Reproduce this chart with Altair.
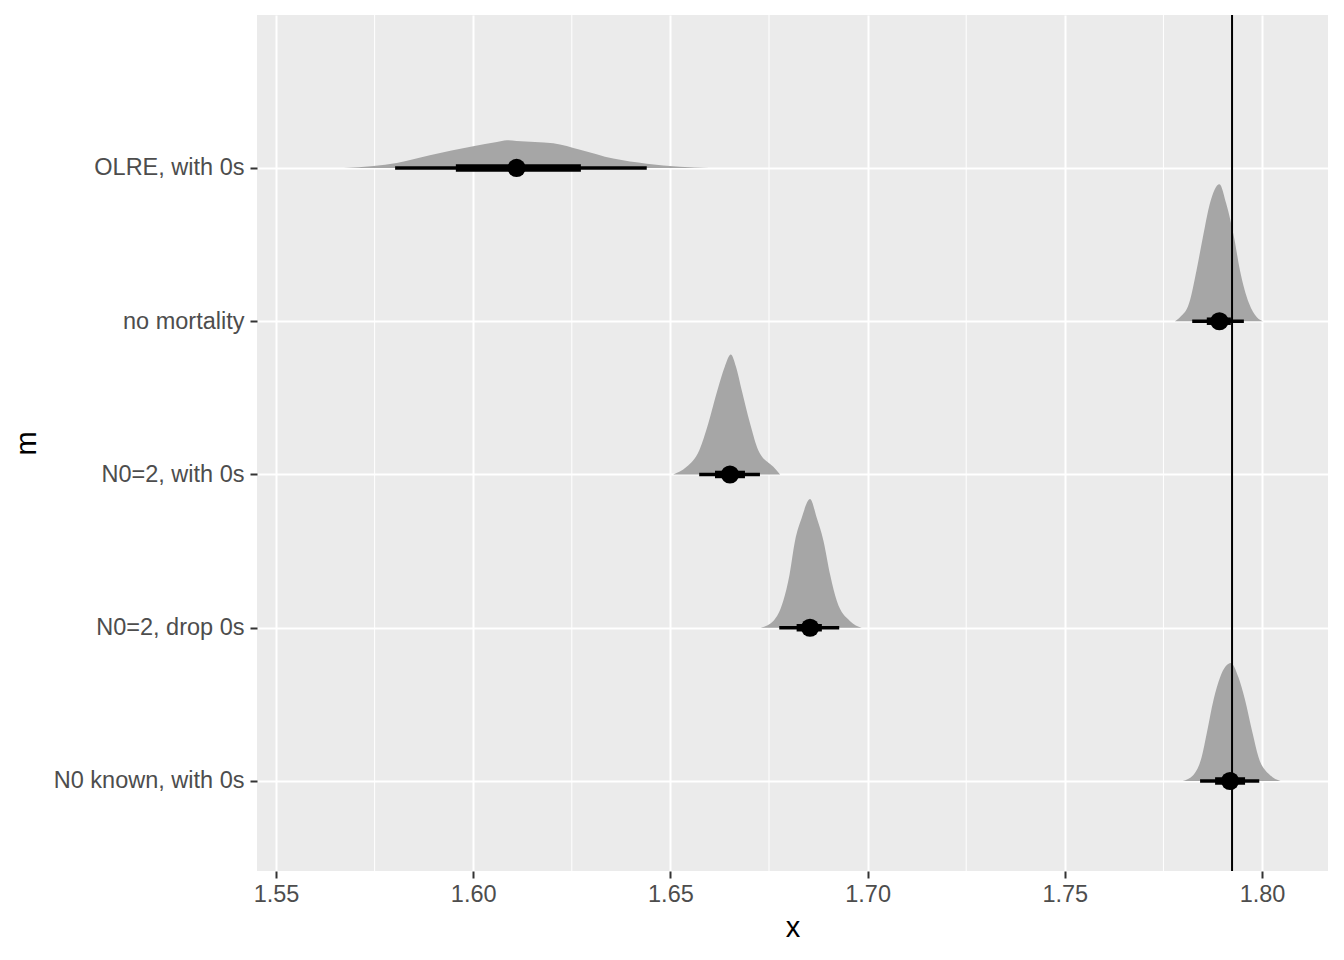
import altair as alt
import pandas as pd

# categories (bottom to top) and their row positions
groups = ["N0 known, with 0s", "N0=2, drop 0s", "N0=2, with 0s", "no mortality", "OLRE, with 0s"]
positions = [1, 2, 3, 4, 5]

# density outlines (x values, heights in row units)
dens_x = {
    "OLRE, with 0s": [1.5672, 1.5747, 1.5806, 1.5890, 1.6000, 1.6060, 1.6085, 1.6110, 1.6203, 1.6271, 1.6355, 1.6440, 1.6524, 1.6598],
    "no mortality": [1.7779, 1.7792, 1.7815, 1.7834, 1.7850, 1.7868, 1.7892, 1.7909, 1.7929, 1.7944, 1.7967, 1.7987, 1.8002],
    "N0=2, with 0s": [1.6507, 1.6541, 1.6573, 1.6596, 1.6619, 1.6638, 1.6653, 1.6666, 1.6681, 1.6702, 1.6723, 1.6761, 1.6778],
    "N0=2, drop 0s": [1.6729, 1.6761, 1.6786, 1.6802, 1.6816, 1.6833, 1.6854, 1.6871, 1.6888, 1.6905, 1.6922, 1.6955, 1.6985],
    "N0 known, with 0s": [1.7799, 1.7826, 1.7847, 1.7860, 1.7877, 1.7894, 1.7921, 1.7940, 1.7957, 1.7976, 1.7991, 1.8020, 1.8047],
}
dens_h = {
    "OLRE, with 0s": [0, 0.013, 0.033, 0.083, 0.142, 0.170, 0.181, 0.176, 0.161, 0.119, 0.061, 0.028, 0.008, 0],
    "no mortality": [0, 0.026, 0.117, 0.333, 0.548, 0.770, 0.894, 0.770, 0.548, 0.333, 0.117, 0.026, 0],
    "N0=2, with 0s": [0, 0.050, 0.157, 0.333, 0.548, 0.705, 0.783, 0.705, 0.548, 0.333, 0.157, 0.050, 0],
    "N0=2, drop 0s": [0, 0.044, 0.174, 0.346, 0.568, 0.718, 0.840, 0.718, 0.568, 0.346, 0.174, 0.044, 0],
    "N0 known, with 0s": [0, 0.039, 0.157, 0.313, 0.529, 0.679, 0.770, 0.679, 0.529, 0.313, 0.157, 0.039, 0],
}

# point + interval summaries
medians = [1.7919, 1.6854, 1.6651, 1.7892, 1.6110]
lo66 = [1.7881, 1.6820, 1.6613, 1.7860, 1.5956]
hi66 = [1.7957, 1.6884, 1.6689, 1.7921, 1.6273]
lo95 = [1.7843, 1.6776, 1.6573, 1.7823, 1.5802]
hi95 = [1.7993, 1.6928, 1.6727, 1.7954, 1.6440]

ref_x = [1.7924]
major_ticks = [1.55, 1.60, 1.65, 1.70, 1.75, 1.80]
minor_ticks = [1.575, 1.625, 1.675, 1.725, 1.775]

XDOM = [1.54518, 1.81673]
YDOM = [0.4127, 5.998]

rows = []
for g, p in zip(groups, positions):
    for xv, hv in zip(dens_x[g], dens_h[g]):
        rows.append({"m": g, "x": xv, "base": p, "top": p + hv})
dens_df = pd.DataFrame(rows)

summ_df = pd.DataFrame({"m": groups, "pos": positions, "med": medians,
                        "lo66": lo66, "hi66": hi66, "lo95": lo95, "hi95": hi95})

label_expr = ("datum.value == 1 ? 'N0 known, with 0s' : datum.value == 2 ? 'N0=2, drop 0s' : "
              "datum.value == 3 ? 'N0=2, with 0s' : datum.value == 4 ? 'no mortality' : "
              "datum.value == 5 ? 'OLRE, with 0s' : ''")

xscale = alt.Scale(domain=XDOM, nice=False, zero=False)
yscale = alt.Scale(domain=YDOM, nice=False, zero=False)

font = "Liberation Sans"

xaxis = alt.Axis(values=major_ticks, format=".2f", title="x", grid=True, gridColor="white",
                 gridWidth=2, domain=False, tickColor="#333333", tickWidth=2, tickSize=7,
                 labelColor="#4D4D4D", labelFontSize=23.5, labelFont=font, labelPadding=4,
                 titleFont=font, titleFontSize=29, titleFontWeight="normal", titleColor="black",
                 titlePadding=8)
yaxis = alt.Axis(values=positions, labelExpr=label_expr, title="m", grid=True, gridColor="white",
                 gridWidth=2, domain=False, tickColor="#333333", tickWidth=2, tickSize=7,
                 labelColor="#4D4D4D", labelFontSize=23.5, labelFont=font, labelPadding=6,
                 labelLimit=400,
                 titleFont=font, titleFontSize=29, titleFontWeight="normal", titleColor="black",
                 titlePadding=16)

minor_df = pd.DataFrame({"v": minor_ticks})
minor = alt.Chart(minor_df).mark_rule(color="white", strokeWidth=1).encode(
    x=alt.X("v:Q", scale=xscale, axis=xaxis)
)

areas = alt.Chart(dens_df).mark_area(color="#A6A6A6", opacity=1, interpolate="monotone").encode(
    x=alt.X("x:Q", scale=xscale, axis=xaxis),
    y=alt.Y("base:Q", scale=yscale, axis=yaxis),
    y2="top:Q",
    detail="m:N",
)

thin = alt.Chart(summ_df).mark_rule(color="black", strokeWidth=3.6).encode(
    x=alt.X("lo95:Q", scale=xscale), x2="hi95:Q", y=alt.Y("pos:Q", scale=yscale)
)
thick = alt.Chart(summ_df).mark_rule(color="black", strokeWidth=7.5).encode(
    x=alt.X("lo66:Q", scale=xscale), x2="hi66:Q", y=alt.Y("pos:Q", scale=yscale)
)
pts = alt.Chart(summ_df).mark_point(filled=True, color="black", opacity=1, size=330, shape="circle").encode(
    x=alt.X("med:Q", scale=xscale), y=alt.Y("pos:Q", scale=yscale)
)

vline = alt.Chart(pd.DataFrame({"v": ref_x})).mark_rule(color="black", strokeWidth=2).encode(
    x=alt.X("v:Q", scale=xscale)
)

chart = alt.layer(minor, areas, thin, thick, pts, vline).properties(
    width=1071, height=856,
    background="white",
    autosize=alt.AutoSizeParams(type="none"),
    padding={"left": 249, "top": 7, "right": 8, "bottom": 80},
).configure_view(fill="#EBEBEB", stroke=None)

chart.save("out.html", embed_options={"renderer": "svg", "actions": False})
